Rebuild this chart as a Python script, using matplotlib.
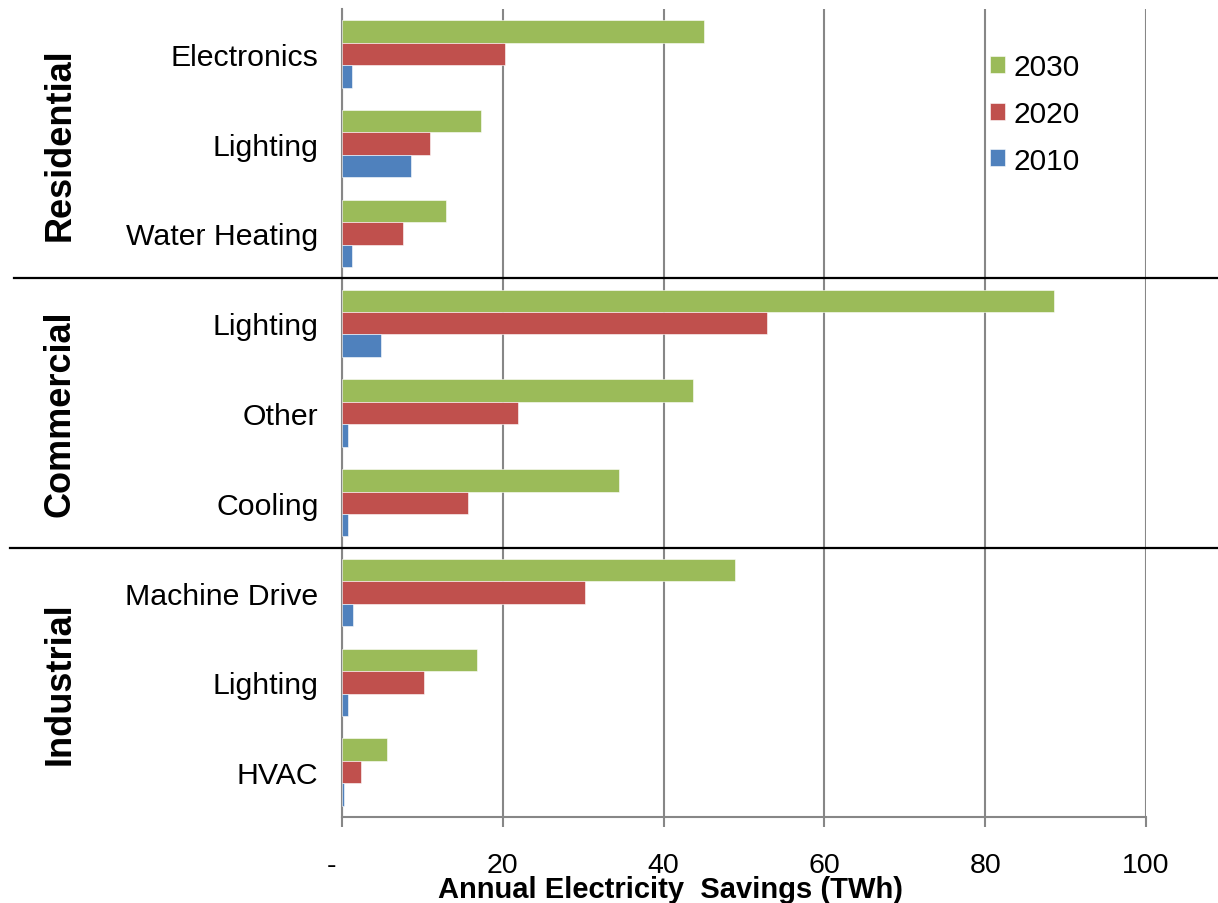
import numpy as np
import matplotlib
matplotlib.use("Agg")
import matplotlib.pyplot as plt
import matplotlib.transforms as mtransforms

plt.rcParams['font.family'] = ['Liberation Sans', 'DejaVu Sans']

# -----------------------------------------------
# Data (TWh), top to bottom
# -----------------------------------------------
categories = ["Electronics", "Lighting", "Water Heating",
              "Lighting", "Other", "Cooling",
              "Machine Drive", "Lighting", "HVAC"]
sectors = ["Residential", "Commercial", "Industrial"]
savings_2030 = [45.0, 17.3, 12.9, 88.5, 43.6, 34.4, 48.9, 16.8, 5.6]
savings_2020 = [20.3, 10.9, 7.6, 52.8, 21.9, 15.7, 30.2, 10.2, 2.4]
savings_2010 = [1.2, 8.6, 1.2, 4.9, 0.7, 0.7, 1.4, 0.7, 0.3]
xticks = [0, 20, 40, 60, 80, 100]
xtick_labels = ["-", "20", "40", "60", "80", "100"]

green = "#9BBB59"
red = "#C0504D"
blue = "#4F81BD"
grid_grey = "#878787"

fig = plt.figure(figsize=(12.18, 9.04), dpi=100)
ax = fig.add_axes([342 / 1218, 1 - 818 / 904, 804 / 1218, 808 / 904])

n = len(categories)
y = np.arange(n)[::-1]  # first category at top
h = 0.25

ax.barh(y + h, savings_2030, height=h, color=green, edgecolor="white", linewidth=0.4, label="2030", zorder=3)
ax.barh(y, savings_2020, height=h, color=red, edgecolor="white", linewidth=0.4, label="2020", zorder=3)
ax.barh(y - h, savings_2010, height=h, color=blue, edgecolor="white", linewidth=0.4, label="2010", zorder=3)

ax.set_xlim(0, 100)
ax.set_ylim(-0.5, n - 0.5)

ax.set_yticks(y)
ax.set_yticklabels(categories, fontsize=21.8)
ax.tick_params(axis="y", length=0, pad=17)

ax.set_xticks(xticks)
ax.set_xticklabels(xtick_labels, fontsize=20.5)
ax.tick_params(axis="x", length=7, width=1.5, color=grid_grey, pad=18, direction="out")
# shift the "-" label left, like the accounting format
first = ax.get_xticklabels()[0]
first.set_transform(first.get_transform() + mtransforms.ScaledTranslation(-10 / 100, 0, fig.dpi_scale_trans))

ax.grid(axis="x", color=grid_grey, linewidth=1.5, zorder=0)
for side in ["top", "right"]:
    ax.spines[side].set_visible(False)
for side in ["left", "bottom"]:
    ax.spines[side].set_color(grid_grey)
    ax.spines[side].set_linewidth(1.5)

ax.set_xlabel("Annual Electricity  Savings (TWh)", fontsize=21, fontweight="bold")
ax.xaxis.set_label_coords(0.408, -0.089)
ax.xaxis.label.set_verticalalignment("center")

# sector separators across the whole figure width
trans = mtransforms.blended_transform_factory(fig.transFigure, ax.transData)
for b, x0 in [(n - 3.5, 14 / 1218), (n - 6.5, 10 / 1218)]:
    ax.plot([x0, 1.0], [b, b], color="black", linewidth=1.6, transform=trans, clip_on=False, zorder=4)

# sector labels
for i, s in enumerate(sectors):
    yc = n - 1 - (3 * i + 1)
    ax.text(60 / 1218, yc, s, transform=trans, rotation=90, fontsize=26, fontweight="bold",
            ha="center", va="center")

leg = ax.legend(loc="upper left", bbox_to_anchor=(978 / 1218, 1 - 42 / 904), bbox_transform=fig.transFigure,
                frameon=False, fontsize=21.5, handlelength=0.5, handleheight=0.5,
                handletextpad=0.3, labelspacing=0.63, borderaxespad=0)

fig.savefig("out.png", dpi=100)
